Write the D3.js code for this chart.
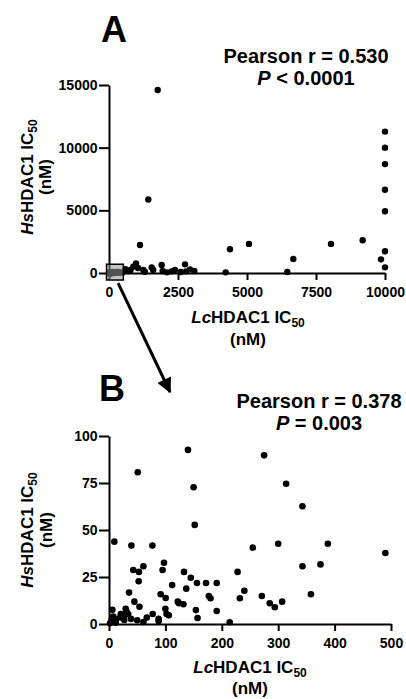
<!DOCTYPE html>
<html><head><meta charset="utf-8">
<script src="https://cdn.jsdelivr.net/npm/d3@7"></script>
<style>
html,body{margin:0;padding:0;background:#fff;}
svg{display:block;font-family:"Liberation Sans",Arial,sans-serif;font-weight:bold;}
svg text{font-weight:bold;}
</style></head>
<body>
<svg id="c" width="406" height="699"></svg>
<script>
// Panel B (zoomed region) data, nM
const bX = [140,51,150,152,9.5,39.7,77,97.5,95,43,61,53,52.6,133,145,156,172,191,112,35.5,91.6,100.5,137,177,180,45,54,122,124,132,154,191,157,214,77.4,100,102,106,88,88,67,61,50,29.6,31,28,21,34,39,27,20,6,7.6,4.7,1.8,12,12,
  275,314,343,255,300,388,490,343,375,271,358,285,294,307,228,232,240];
const bY = [92.6,80.7,72.7,52.7,43.8,41.7,41.7,32.6,28.7,28.7,30.7,27.7,22.7,27.7,24.6,21.8,21.8,21.8,20.7,16.7,15.8,13.8,18.8,14.9,13.7,11.9,9.2,11.9,11,10.5,7.4,6.9,3.2,0.9,5.3,8.1,5.3,4.6,2.8,1.6,3.4,1.1,2,8.1,6.6,4.8,5.3,5.3,2.7,2.1,3.5,7.6,3.9,2.1,0.4,0.7,2.5,
  89.7,74.6,62.6,40.6,42.7,42.7,37.8,30.7,31.7,14.9,15.8,11,8.9,11.9,27.7,13.7,17.7];
// Panel A additional compounds outside the zoomed region, nM
const aX = [1764,1424,1123,4384,5072,6678,6461,8043,9191,10000,10000,10000,10000,10000,10000,9855,10000,4228,
  978,880,780,1244,1546,1600,1908,1944,2270,2390,2754,2790,2935,3092,1300,600,700,1050,2100,2600];
const aY = [14600,5860,2240,1890,2320,1120,80,2320,2610,11280,10000,8690,6640,4930,1730,1090,450,50,
  770,510,240,240,450,240,640,160,130,240,690,130,290,160,100,300,150,400,50,80];
const aXTicks = [0,2500,5000,7500,10000];
const aYTicks = [0,5000,10000,15000];
const bXTicks = [0,100,200,300,400,500];
const bYTicks = [0,25,50,75,100];
const statsA = ["Pearson r = 0.530", "< 0.0001"];
const statsB = ["Pearson r = 0.378", "= 0.003"];

const svg = d3.select("#c");
const defs = svg.append("defs");
defs.append("marker").attr("id","ah").attr("viewBox","0 0 10 10").attr("refX",9).attr("refY",5)
  .attr("markerWidth",5.5).attr("markerHeight",5).attr("orient","auto").attr("markerUnits","strokeWidth")
  .append("path").attr("d","M0,0L10,5L0,10Z").attr("fill","#000");

function axes(g, x, y, xt, yt) {
  const ya = g.append("g").attr("transform",`translate(${x.range()[0]},0)`)
    .call(d3.axisLeft(y).tickValues(yt).tickSize(10).tickPadding(1.5).tickSizeOuter(0).tickFormat(d3.format("d")));
  const xa = g.append("g").attr("transform",`translate(0,${y.range()[0]})`)
    .call(d3.axisBottom(x).tickValues(xt).tickSize(7).tickPadding(7).tickSizeOuter(0).tickFormat(d3.format("d")));
  [ya,xa].forEach(a=>{
    a.attr("font-family",null).attr("font-size",null);
    a.select(".domain").attr("stroke-width",2);
    a.selectAll(".tick line").attr("stroke-width",2);
    a.selectAll("text").style("font-size","14px").style("font-weight","bold")
      .style("font-family","'Liberation Sans', Arial, sans-serif").attr("fill","#000");
  });
}
function label(g, tx, ty, rot, pre) {
  const t = g.append("text").attr("text-anchor","middle").attr("font-size",17)
    .attr("transform",`translate(${tx},${ty}) rotate(${rot})`);
  t.append("tspan").attr("font-style","italic").text(pre);
  t.append("tspan").text("HDAC1 IC");
  t.append("tspan").attr("font-size",12).attr("dy",4).text("50");
}
function unit(g, tx, ty, rot) {
  g.append("text").attr("text-anchor","middle").attr("font-size",17)
    .attr("transform",`translate(${tx},${ty}) rotate(${rot})`).text("(nM)");
}
function stats(g, cx, y1, y2, s) {
  g.append("text").attr("x",cx).attr("y",y1).attr("text-anchor","middle").attr("font-size",20).text(s[0]);
  const t = g.append("text").attr("x",cx).attr("y",y2).attr("text-anchor","middle").attr("font-size",20);
  t.append("tspan").attr("font-style","italic").text("P");
  t.append("tspan").text(" " + s[1]);
}

// Panel A
const xA = d3.scaleLinear().domain([0,10000]).range([109,385]);
const yA = d3.scaleLinear().domain([0,15000]).range([273,85]);
const gA = svg.append("g");
const allAX = aX.concat(bX), allAY = aY.concat(bY);
gA.selectAll("circle").data(allAX).join("circle")
  .attr("cx",(d)=>xA(d)).attr("cy",(d,i)=>yA(allAY[i])).attr("r",3.2).attr("fill","#000");
axes(gA, xA, yA, aXTicks, aYTicks);
gA.append("rect").attr("x",xA(-90)).attr("y",yA(700)).attr("width",xA(520)-xA(-90)).attr("height",yA(-560)-yA(700))
  .attr("fill","rgba(150,150,150,0.55)").attr("stroke","#000").attr("stroke-width",1.5);
label(gA, 248, 323, 0, "Lc");
unit(gA, 248, 345, 0);
label(gA, 33, 177, -90, "Hs");
unit(gA, 51, 177, -90);
gA.append("text").attr("x",114).attr("y",42).attr("text-anchor","middle").attr("font-size",36).text("A");
stats(gA, 306, 63, 85, statsA);

// arrow
svg.append("line").attr("x1",xA(330)).attr("y1",yA(-800)).attr("x2",170).attr("y2",392)
  .attr("stroke","#000").attr("stroke-width",3).attr("marker-end","url(#ah)");

// Panel B
const xB = d3.scaleLinear().domain([0,500]).range([109,391]);
const yB = d3.scaleLinear().domain([0,100]).range([624,436]);
const gB = svg.append("g");
gB.selectAll("circle").data(bX).join("circle")
  .attr("cx",d=>xB(d)).attr("cy",(d,i)=>yB(bY[i])).attr("r",3.3).attr("fill","#000");
axes(gB, xB, yB, bXTicks, bYTicks);
label(gB, 250, 673, 0, "Lc");
unit(gB, 250, 694, 0);
label(gB, 33, 530, -90, "Hs");
unit(gB, 52, 530, -90);
gB.append("text").attr("x",112).attr("y",401).attr("text-anchor","middle").attr("font-size",36).text("B");
stats(gB, 319, 408, 430, statsB);
</script>
</body></html>
